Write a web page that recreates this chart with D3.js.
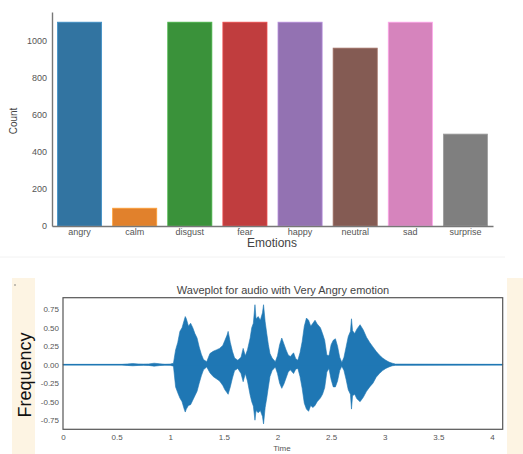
<!DOCTYPE html>
<html><head><meta charset="utf-8">
<script src="https://cdn.jsdelivr.net/npm/d3@7"></script>
<style>body{margin:0;background:#fff}svg{display:block}</style>
</head><body>
<svg id="c" width="523" height="454"></svg>
<script>
// ---- Data: bar chart ----
const emotions = ["angry","calm","disgust","fear","happy","neutral","sad","surprise"];
const counts   = [1100, 96, 1100, 1100, 1100, 960, 1100, 496];
const barColors = ["#3274a1","#e1812c","#3a923a","#c03d3e","#9372b2","#845b53","#d684bd","#7f7f7f"];
const countTicks = [0,200,400,600,800,1000];

// ---- Data: waveplot envelope (seconds, upper amplitude, lower amplitude) ----
const waveTime  = [0,0.55,0.6,0.65,0.7,0.75,0.8,0.85,0.9,0.95,1.0,1.03,1.05,1.07,1.09,1.11,1.13,1.14,1.15,1.17,1.19,1.21,1.23,1.25,1.27,1.29,1.31,1.34,1.37,1.40,1.43,1.46,1.49,1.51,1.53,1.54,1.56,1.58,1.60,1.63,1.66,1.68,1.70,1.72,1.745,1.76,1.775,1.79,1.80,1.82,1.84,1.86,1.87,1.885,1.90,1.915,1.93,1.95,1.98,2.00,2.02,2.04,2.06,2.08,2.10,2.12,2.15,2.17,2.19,2.21,2.23,2.25,2.27,2.29,2.31,2.33,2.35,2.37,2.40,2.42,2.44,2.46,2.48,2.50,2.52,2.54,2.56,2.58,2.60,2.62,2.64,2.66,2.68,2.69,2.70,2.72,2.74,2.77,2.80,2.83,2.86,2.89,2.92,2.95,2.98,3.01,3.04,3.07,3.10,4.1];
const waveUpper = [0.005,0.005,0.01,0.015,0.01,0.008,0.01,0.02,0.012,0.006,0.008,0.02,0.2,0.3,0.45,0.5,0.6,0.65,0.62,0.52,0.56,0.5,0.42,0.36,0.24,0.14,0.07,0.04,0.15,0.18,0.2,0.22,0.26,0.33,0.40,0.45,0.30,0.18,0.09,0.06,0.1,0.22,0.12,0.2,0.36,0.5,0.56,0.81,0.62,0.65,0.6,0.7,0.81,0.58,0.42,0.27,0.15,0.09,0.04,0.12,0.27,0.36,0.28,0.2,0.13,0.11,0.16,0.08,0.06,0.16,0.31,0.52,0.63,0.6,0.52,0.56,0.6,0.55,0.5,0.42,0.33,0.13,0.12,0.27,0.33,0.35,0.25,0.1,0.03,0.1,0.24,0.38,0.45,0.62,0.46,0.42,0.48,0.54,0.47,0.37,0.3,0.24,0.18,0.13,0.09,0.06,0.035,0.02,0.008,0.005];
const waveLower = [-0.005,-0.005,-0.01,-0.015,-0.01,-0.008,-0.01,-0.02,-0.012,-0.006,-0.008,-0.02,-0.3,-0.38,-0.45,-0.5,-0.6,-0.64,-0.6,-0.55,-0.54,-0.48,-0.42,-0.36,-0.25,-0.15,-0.07,-0.03,-0.11,-0.16,-0.19,-0.22,-0.28,-0.34,-0.38,-0.4,-0.3,-0.18,-0.08,-0.05,-0.12,-0.23,-0.12,-0.22,-0.41,-0.5,-0.56,-0.75,-0.62,-0.65,-0.62,-0.7,-0.8,-0.58,-0.45,-0.3,-0.16,-0.08,-0.03,-0.12,-0.25,-0.32,-0.26,-0.18,-0.1,-0.07,-0.12,-0.06,-0.05,-0.16,-0.32,-0.52,-0.6,-0.63,-0.55,-0.58,-0.55,-0.5,-0.45,-0.4,-0.31,-0.1,-0.05,-0.2,-0.3,-0.3,-0.22,-0.08,-0.02,-0.08,-0.2,-0.34,-0.4,-0.6,-0.42,-0.4,-0.46,-0.5,-0.44,-0.36,-0.3,-0.25,-0.17,-0.12,-0.08,-0.05,-0.03,-0.015,-0.008,-0.005];
const timeTicks = [0,0.5,1,1.5,2,2.5,3,3.5,4];
const timeTickLabels = ["0","0.5","1","1.5","2","2.5","3","3.5","4"];
const ampTicks = [0.75,0.5,0.25,0,-0.25,-0.5,-0.75];
const ampTickLabels = ["0.75","0.50","0.25","0.00","-0.25","-0.50","-0.75"];

const svg = d3.select("#c");
const FONT = "'Liberation Sans', Arial, sans-serif";

// ---------- Top: bar chart ----------
const bx = d3.scaleBand().domain(emotions).range([52,493]).paddingInner(0.2).paddingOuter(0.1);
const by = d3.scaleLinear().domain([0,1155]).range([226,12]);

const gTop = svg.append("g");
gTop.selectAll("rect.bar").data(emotions).join("rect")
  .attr("class","bar")
  .attr("x", d=>bx(d)).attr("width", bx.bandwidth())
  .attr("y", (d,i)=>by(counts[i])).attr("height",(d,i)=>by(0)-by(counts[i]))
  .attr("fill",(d,i)=>barColors[i])
  .attr("stroke",(d,i)=>d3.color(barColors[i]).brighter(0.6))
  .attr("stroke-width",0.8);

const yAxT = gTop.append("g").attr("transform","translate(52,0)")
  .call(d3.axisLeft(by).tickValues(countTicks).tickFormat(d3.format("d")).tickSize(0).tickPadding(5));
yAxT.select(".domain").attr("stroke","#777").attr("stroke-width",1.4);
yAxT.selectAll("text").attr("font-family",FONT).attr("font-size",9).attr("fill","#555");

const xAxT = gTop.append("g").attr("transform","translate(0,226)")
  .call(d3.axisBottom(bx).tickSize(0).tickPadding(3));
xAxT.select(".domain").attr("stroke","#777").attr("stroke-width",1.4);
xAxT.selectAll("text").attr("font-family",FONT).attr("font-size",9).attr("fill","#555");

gTop.append("text").attr("x",272).attr("y",247).attr("text-anchor","middle")
  .attr("font-family",FONT).attr("font-size",12).attr("fill","#444").text("Emotions");
gTop.append("text").attr("transform","translate(17,121) rotate(-90)").attr("text-anchor","middle")
  .attr("font-family",FONT).attr("font-size",10).attr("fill","#444").text("Count");

// ---------- Bottom: decorations ----------
svg.append("line").attr("x1",0).attr("x2",505).attr("y1",257).attr("y2",257).attr("stroke","#f2f2f2");
svg.append("rect").attr("x",12).attr("y",278).attr("width",23).attr("height",176).attr("fill","#fdf4e3");
svg.append("rect").attr("x",507).attr("y",278).attr("width",16).attr("height",176).attr("fill","#fdf4e3");
svg.append("circle").attr("cx",15).attr("cy",285).attr("r",0.8).attr("fill","#777");

// ---------- Bottom: waveplot ----------
const wx = d3.scaleLinear().domain([0,4.1]).range([63,502.7]);
const wy = d3.scaleLinear().domain([-0.873,0.905]).range([429.3,297.7]);
const waveData = waveTime.map((t,i)=>({t, hi:waveUpper[i], lo:waveLower[i]}));

const gBot = svg.append("g");
gBot.append("path").datum(waveData)
  .attr("d", d3.area().x(d=>wx(d.t)).y0(d=>wy(d.lo)).y1(d=>wy(d.hi)).curve(d3.curveLinear))
  .attr("fill","#1f77b4").attr("stroke","#1f77b4").attr("stroke-width",0.6);
gBot.append("path").datum(waveData)
  .attr("d", d3.line().x(d=>wx(d.t)).y(()=>wy(0)))
  .attr("stroke","#1f77b4").attr("stroke-width",1.2).attr("fill","none");

gBot.append("rect").attr("x",63).attr("y",297.7).attr("width",502.7-63).attr("height",429.3-297.7)
  .attr("fill","none").attr("stroke","#555").attr("stroke-width",1.2);

const xAxB = gBot.append("g").attr("transform","translate(0,429.3)")
  .call(d3.axisBottom(wx).tickValues(timeTicks).tickFormat((d,i)=>timeTickLabels[i]).tickSize(0).tickPadding(5));
xAxB.select(".domain").remove();
xAxB.selectAll("text").attr("font-family",FONT).attr("font-size",8).attr("fill","#555");

const yAxB = gBot.append("g").attr("transform","translate(63,0)")
  .call(d3.axisLeft(wy).tickValues(ampTicks).tickFormat((d,i)=>ampTickLabels[i]).tickSize(0).tickPadding(4));
yAxB.select(".domain").remove();
yAxB.selectAll("text").attr("font-family",FONT).attr("font-size",8).attr("fill","#555");

gBot.append("text").attr("x",283).attr("y",294).attr("text-anchor","middle")
  .attr("font-family",FONT).attr("font-size",11).attr("fill","#444")
  .text("Waveplot for audio with Very Angry emotion");
gBot.append("text").attr("x",282).attr("y",451).attr("text-anchor","middle")
  .attr("font-family",FONT).attr("font-size",8).attr("fill","#555").text("Time");
gBot.append("text").attr("transform","translate(31,375) rotate(-90)").attr("text-anchor","middle")
  .attr("font-family",FONT).attr("font-size",18).attr("fill","#111").text("Frequency");
</script>
</body></html>
